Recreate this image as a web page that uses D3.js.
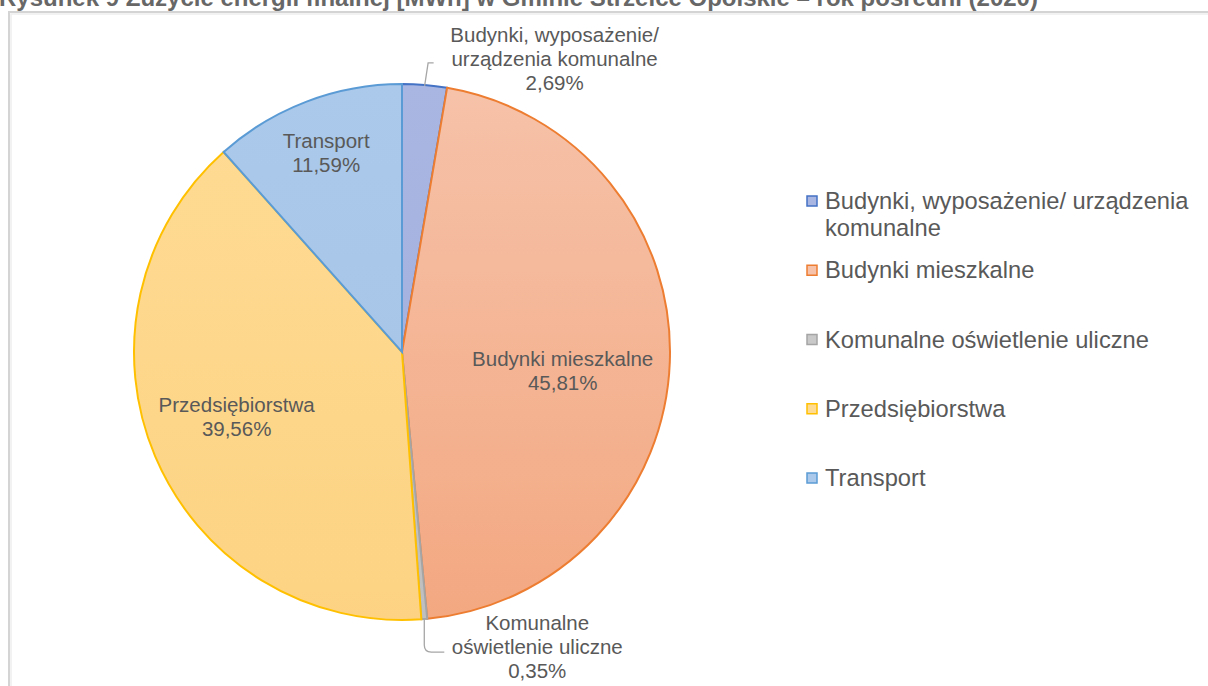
<!DOCTYPE html>
<meta charset="utf-8">
<style>
body { margin: 0; background: #fff; }
svg { font-family: "Liberation Sans", Arial, sans-serif; }
.title { font-weight: bold; font-size: 24px; fill: #676767; }
.label { font-size: 20.5px; fill: #595959; text-anchor: middle; }
.legend text { font-size: 23.7px; fill: #595959; }
</style>
<svg width="1208" height="686"></svg>
<script src="https://d3js.org/d3.v7.min.js"></script>
<script>

var categories = [
  "Budynki, wyposażenie/ urządzenia komunalne",
  "Budynki mieszkalne",
  "Komunalne oświetlenie uliczne",
  "Przedsiębiorstwa",
  "Transport"
];
var values = [2.69, 45.81, 0.35, 39.56, 11.59];
var valueLabels = ["2,69%", "45,81%", "0,35%", "39,56%", "11,59%"];
var pieLabelLines = [
  ["Budynki, wyposażenie/", "urządzenia komunalne"],
  ["Budynki mieszkalne"],
  ["Komunalne", "oświetlenie  uliczne"],
  ["Przedsiębiorstwa"],
  ["Transport"]
];
var legendLines = [
  ["Budynki, wyposażenie/ urządzenia", "komunalne"],
  ["Budynki mieszkalne"],
  ["Komunalne oświetlenie uliczne"],
  ["Przedsiębiorstwa"],
  ["Transport"]
];

var strokes = ["#4472c4", "#ed7d31", "#a5a5a5", "#ffc000", "#5b9bd5"];
var fillsTop = ["#a9b6e2", "#f6c2a9", "#c9c9c9", "#fedb94", "#abc9ea"];
var fillsBot = ["#a1aedd", "#f3a881", "#bfbfbf", "#fdd383", "#a5c3e6"];

// inside labels: radius fraction along the slice bisector, plus vertical nudge
var labelR = [0, 0.6, 0, 0.67, 0.795];
var labelNudge = [0, 13, 0, -5, 0];
var outside = [true, false, true, false, false];

var svg = d3.select("svg"),
    cx = 402, cy = 352, radius = 268,
    lineH = 24;

svg.append("text").attr("class", "title")
    .attr("x", -1).attr("y", 6)
    .text("Rysunek 9 Zużycie energii finalnej [MWh] w Gminie Strzelce Opolskie – rok pośredni (2020)");

// chart area border
svg.append("path")
    .attr("d", "M9,700V12H1210")
    .attr("fill", "none").attr("stroke", "#d4d4d4").attr("stroke-width", 2);
svg.append("path")
    .attr("d", "M11,700V14H1210")
    .attr("fill", "none").attr("stroke", "#eeeeee").attr("stroke-width", 1.5);

var defs = svg.append("defs");
categories.forEach(function(c, i) {
  var grad = defs.append("linearGradient")
      .attr("id", "g" + i)
      .attr("gradientUnits", "userSpaceOnUse")
      .attr("x1", 0).attr("y1", -radius).attr("x2", 0).attr("y2", radius);
  grad.append("stop").attr("offset", "0%").attr("stop-color", fillsTop[i]);
  grad.append("stop").attr("offset", "100%").attr("stop-color", fillsBot[i]);
});

var pie = d3.pie().sort(null).value(function(d) { return d; });
var arcs = pie(values);
var arc = d3.arc().innerRadius(0).outerRadius(radius);

var g = svg.append("g").attr("transform", "translate(" + cx + "," + cy + ")");

g.selectAll("path.slice")
  .data(arcs)
  .enter().append("path")
    .attr("class", "slice")
    .attr("d", arc)
    .attr("fill", function(d, i) { return "url(#g" + i + ")"; })
    .attr("stroke", function(d, i) { return strokes[i]; })
    .attr("stroke-width", 2);

function dir(d) {
  var a = (d.startAngle + d.endAngle) / 2;
  return [Math.sin(a), -Math.cos(a)];
}

function addLabel(lines, x, y0) {
  var t = g.append("text").attr("class", "label").attr("x", x).attr("y", y0);
  lines.forEach(function(s, k) {
    t.append("tspan").attr("x", x).attr("dy", k === 0 ? 0 : lineH).text(s);
  });
}

arcs.forEach(function(d, i) {
  var v = dir(d);
  var lines = pieLabelLines[i].concat([valueLabels[i]]);
  if (!outside[i]) {
    var r = radius * labelR[i];
    var lx = v[0] * r, ly = v[1] * r + labelNudge[i];
    addLabel(lines, lx, ly - (lines.length - 1) * lineH / 2 + 7);
    return;
  }
  var ex = v[0] * radius, ey = v[1] * radius, path;
  if (v[1] < 0) {
    // label above the pie
    path = "M" + ex + "," + (ey + 1) + "L" + (ex + 3.5) + "," + (ey - 22) + "H" + (ex + 9);
    addLabel(lines, ex + 130, ey - 43);
  } else {
    // label below the pie
    path = "M" + ex + "," + (ey + 1) + "V" + (ey + 26) + "Q" + ex + "," + (ey + 33) + " " + (ex + 7) + "," + (ey + 33) + "H" + (ex + 20);
    addLabel(lines, ex + 113, ey + 11);
  }
  g.append("path").attr("d", path)
      .attr("fill", "none").attr("stroke", "#a6a6a6").attr("stroke-width", 1.3);
});

// legend
var ly = d3.scaleLinear().domain([0, 4]).range([201, 478]);
var legend = svg.append("g").attr("class", "legend");
categories.forEach(function(c, i) {
  var y = ly(i);
  legend.append("rect")
      .attr("x", 807).attr("y", y - 5).attr("width", 10).attr("height", 10)
      .attr("fill", fillsTop[i]).attr("stroke", strokes[i]).attr("stroke-width", 1.5);
  var t = legend.append("text").attr("x", 825).attr("y", y + 8);
  legendLines[i].forEach(function(s, k) {
    t.append("tspan").attr("x", 825).attr("dy", k === 0 ? 0 : 27).text(s);
  });
});

</script>
